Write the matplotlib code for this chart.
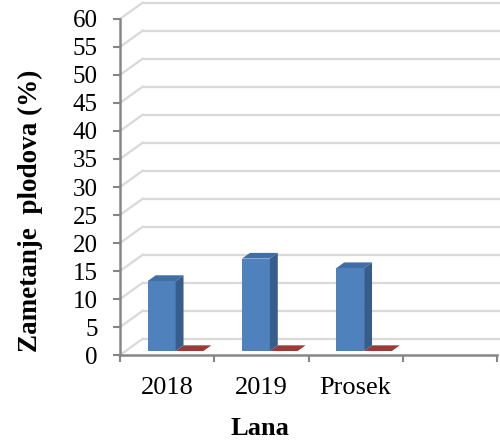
import matplotlib.pyplot as plt

# Zametanje plodova po godinama
categories = ["2018", "2019", "Prosek", ""]
zametanje = [12.5, 16.5, 14.8]
druga_serija = [0.0, 0.0, 0.0]
y_ticks = list(range(0, 61, 5))

# pseudo-3D depth of the chart box: shift in category units and in %
DX, DY = 0.24, 2.9

BLUE_FRONT, BLUE_SIDE, BLUE_TOP = "#4F81BD", "#385D8A", "#3F6DA4"
RED_FRONT, RED_SIDE, RED_TOP = "#C0504D", "#8C3836", "#9B3A37"
GRID = "#D9D9D9"
AXIS = "#868686"


def proj(x, y, d):
    return x + d * DX, y + d * DY


def face(ax, pts, color, z):
    xs, ys = zip(*pts)
    ax.fill(xs, ys, color=color, lw=0, clip_on=False, zorder=z)


def draw_box(ax, x0, x1, h, d0, d1, colors, z):
    front, side, top = colors
    if h > 0:
        face(ax, [proj(x0, 0, d0), proj(x1, 0, d0), proj(x1, h, d0), proj(x0, h, d0)], front, z)
        face(ax, [proj(x1, 0, d0), proj(x1, 0, d1), proj(x1, h, d1), proj(x1, h, d0)], side, z)
    face(ax, [proj(x0, h, d0), proj(x1, h, d0), proj(x1, h, d1), proj(x0, h, d1)], top, z + 0.1)


def main():
    plt.rcParams["font.family"] = ["Liberation Serif", "DejaVu Serif"]
    fig = plt.figure(figsize=(5.0, 4.4), dpi=100)
    ax = fig.add_axes([0.24, 0.193, 0.754, 0.764])
    ax.patch.set_visible(False)
    n = len(categories)
    ax.set_xlim(0, n)
    ax.set_ylim(0, 60)

    # back wall gridlines and the side wall diagonals
    for v in y_ticks:
        x_back, y_back = proj(0, v, 1)
        ax.plot([x_back, n + 0.2], [y_back, y_back], color=GRID, lw=1.6,
                clip_on=False, zorder=1)
        ax.plot([0, x_back], [v, y_back], color=GRID, lw=1.6,
                clip_on=False, zorder=1)

    width = 0.295
    start = 0.235
    d0, d1 = 0.25, 0.6
    for i, val in enumerate(zametanje):
        x0 = i + start
        draw_box(ax, x0 + width, x0 + 2 * width, druga_serija[i], d0, d1,
                 (RED_FRONT, RED_SIDE, RED_TOP), 3)
        draw_box(ax, x0, x0 + width, val, d0, d1,
                 (BLUE_FRONT, BLUE_SIDE, BLUE_TOP), 4)

    for s in ("top", "right"):
        ax.spines[s].set_visible(False)
    for s in ("left", "bottom"):
        ax.spines[s].set_color(AXIS)
        ax.spines[s].set_linewidth(1.8)

    ax.set_yticks(y_ticks)
    ax.set_xticks(range(n + 1))
    ax.set_xticklabels([])
    ax.set_xticks([i + 0.5 for i in range(n)], minor=True)
    ax.set_xticklabels(categories, minor=True)
    ax.tick_params(axis="y", length=5, width=1.5, color=AXIS, pad=11, labelsize=18)
    ax.tick_params(axis="x", which="major", length=5, width=1.5, color=AXIS,
                   direction="out")
    ax.tick_params(axis="x", which="minor", length=0, pad=16, labelsize=19)

    fig.text(0.060, 1 - 211 / 440, "Zametanje  plodova (%)", rotation=90,
             ha="center", va="center", fontsize=19.5, fontweight="bold")
    fig.text(260 / 500, 1 - 428 / 440, "Lana", ha="center", va="center",
             fontsize=19, fontweight="bold")

    fig.savefig("out.png", dpi=100)
    plt.close(fig)


if __name__ == "__main__":
    main()
